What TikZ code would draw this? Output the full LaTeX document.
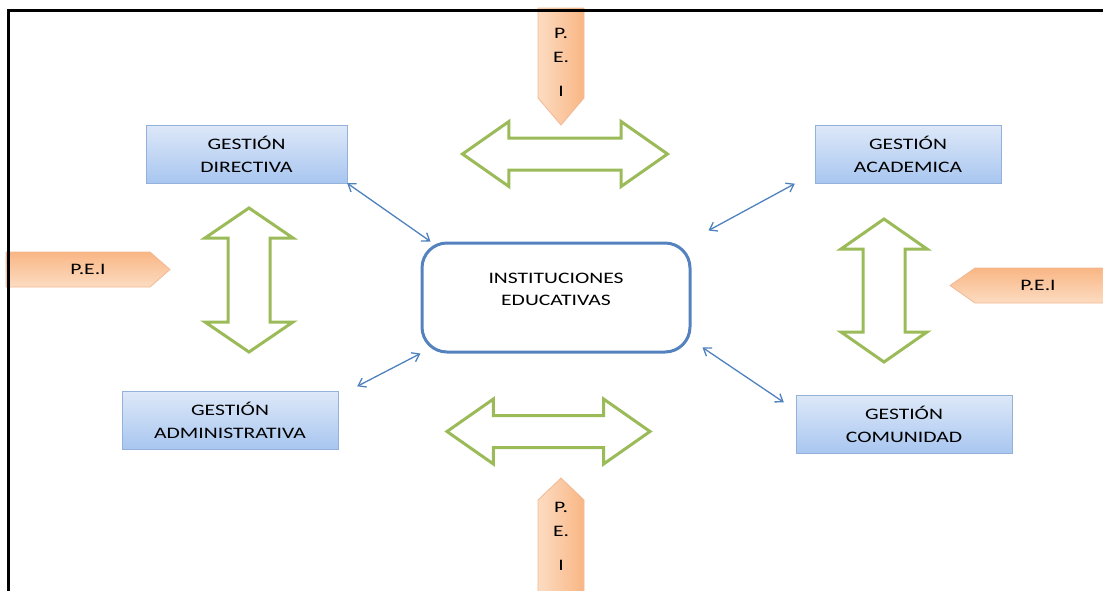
\documentclass[tikz,border=0pt]{standalone}
\usepackage{fontspec}
\setmainfont{Carlito}[FakeStretch=1.35]
\usepackage{xcolor}
\usetikzlibrary{shapes.arrows, arrows.meta}
\definecolor{boxtop}{HTML}{DDE8F8}
\definecolor{boxbot}{HTML}{A8C6F0}
\definecolor{boxline}{HTML}{93B1D9}
\definecolor{instline}{HTML}{5382BE}
\definecolor{peidark}{HTML}{F9B684}
\definecolor{peilight}{HTML}{FCDCC2}
\definecolor{peiline}{HTML}{F2B893}
\definecolor{greenline}{HTML}{9BBB59}
\definecolor{linkblue}{HTML}{4F81BD}

\begin{document}
\begin{tikzpicture}[
    x=1pt, y=-1pt,
    gestion/.style={rectangle, draw=boxline, top color=boxtop, bottom color=boxbot, align=center, font=\fontsize{16}{23}\selectfont, minimum height=58pt},
    centro/.style={rectangle, rounded corners=25pt, draw=instline, line width=3pt, align=center, font=\fontsize{16}{22}\selectfont, minimum width=268pt, minimum height=109pt},
    pei/.style={draw=peiline, line width=0.8pt},
    peitexto/.style={align=center, inner sep=0pt, font=\fontsize{16}{24}\selectfont},
    flechah/.style={double arrow, draw=greenline, line width=3pt, double arrow head extend=16.5pt, double arrow tip angle=70, inner sep=14.5pt, minimum width=62pt},
    flechav/.style={draw=greenline, line width=3pt},
    enlace/.style={{Straight Barb[length=7pt,width=10pt]}-{Straight Barb[length=7pt,width=10pt]}, draw=linkblue, line width=1.3pt}
]
\useasboundingbox (0,0) rectangle (1103,590);

\node[gestion, minimum width=201pt] (dir) at (246.5,154) {GESTIÓN\\DIRECTIVA};
\node[gestion, minimum width=186pt] (acad) at (908,154.5) {GESTIÓN\\ACADEMICA};
\node[gestion, minimum width=216pt] (admin) at (230,420.5) {GESTIÓN\\ADMINISTRATIVA};
\node[gestion, minimum width=216pt] (comu) at (904,424.5) {GESTIÓN\\COMUNIDAD};
\node[centro] (inst) at (556,297.5) {INSTITUCIONES\\EDUCATIVAS\\[-6pt]};

\path[pei, left color=peilight, right color=peidark] (538,8) -- (584,8) -- (584,98) -- (561,125) -- (538,98) -- cycle;
\node[peitexto] (peiarriba) at (561,62) {P.\\E.\\[10pt]I};
\path[pei, left color=peilight, right color=peidark] (538,592) -- (584,592) -- (584,500) -- (561,478) -- (538,500) -- cycle;
\node[peitexto] (peiabajo) at (561,536) {P.\\E.\\[10pt]I};
\path[pei, top color=peidark, bottom color=peilight] (6,252) -- (150,252) -- (170,269.5) -- (150,287) -- (6,287) -- cycle;
\node[peitexto] (peiizq) at (88,269.5) {P.E.I};
\path[pei, top color=peidark, bottom color=peilight] (1105,268) -- (975,268) -- (950,285.5) -- (975,303) -- (1105,303) -- cycle;
\node[peitexto] (peider) at (1038,285.5) {P.E.I};

\node[flechah, minimum height=205pt] (verdearriba) at (565,154) {};
\node[flechah, minimum height=203pt] (verdeabajo) at (548.5,431.5) {};
\draw[flechav] (249,208) -- (293,238) -- (270,238) -- (270,322) -- (293,322) -- (249,352) -- (205,322) -- (228,322) -- (228,238) -- (205,238) -- cycle;
\draw[flechav] (884,219) -- (927,249) -- (905,249) -- (905,332) -- (927,332) -- (884,362) -- (841,332) -- (863,332) -- (863,249) -- (841,249) -- cycle;

\draw[enlace] (dir.south east) -- ([xshift=10pt]inst.north west);
\draw[enlace] ([xshift=-20pt]acad.south west) -- ([xshift=17pt,yshift=11pt]inst.north east);
\draw[enlace] ([xshift=19pt,yshift=5pt]admin.north east) -- (inst.south west);
\draw[enlace] ([xshift=-12pt,yshift=-7pt]comu.north west) -- ([xshift=11pt,yshift=6pt]inst.south east);

\coordinate (marcoabajo) at (8,592);
\coordinate (marcoesq) at (8,10);
\coordinate (marcoder) at (1105,10);
\draw[line width=3pt] (marcoabajo) -- (marcoesq) -- (marcoder);

\end{tikzpicture}
\end{document}
